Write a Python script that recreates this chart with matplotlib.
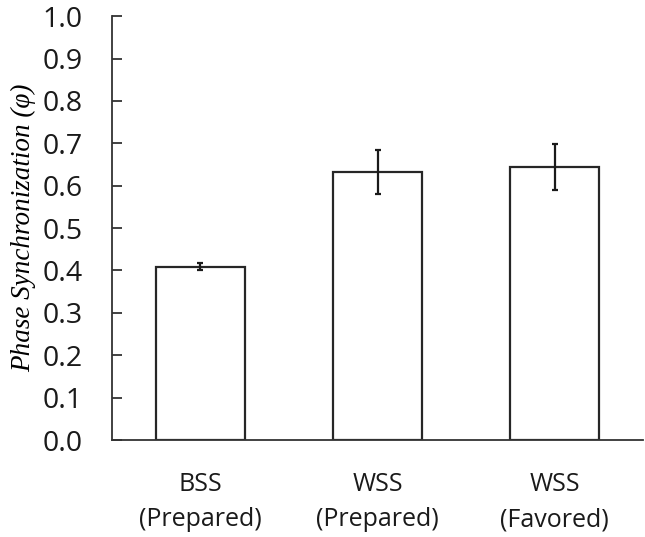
import matplotlib
matplotlib.use('Agg')
import matplotlib.pyplot as plt
import numpy as np

conditions = ['BSS\n(Prepared)', 'WSS\n(Prepared)', 'WSS\n(Favored)']
phase_sync = [0.409, 0.632, 0.644]
sem = [0.009, 0.052, 0.054]

fig = plt.figure(figsize=(6.45, 5.37), dpi=100)
ax = fig.add_axes([0.1736, 0.1806, 0.8234, 0.7894])

x = np.arange(len(conditions))
ax.bar(x, phase_sync, width=0.5, color='white', edgecolor='#262626', linewidth=1.6, zorder=2)
ax.errorbar(x, phase_sync, yerr=sem, fmt='none', ecolor='#1a1a1a', elinewidth=1.6,
            capsize=2.5, capthick=1.6, zorder=3)

ax.set_xlim(-0.5, 2.5)
ax.set_ylim(0, 1.0)
ax.set_yticks(np.arange(0, 1.01, 0.1))
ax.set_yticklabels(['%.1f' % v for v in np.arange(0, 1.01, 0.1)], fontfamily='Open Sans', fontsize=20.5)
ax.set_xticks(x)
ax.set_xticklabels(conditions, fontfamily='Open Sans', fontsize=18, linespacing=1.55)

for s in ['top', 'right']:
    ax.spines[s].set_visible(False)
for s in ['left', 'bottom']:
    ax.spines[s].set_color('#333333')
    ax.spines[s].set_linewidth(1.3)

ax.tick_params(axis='y', direction='in', length=7, width=1.3, color='#333333', pad=21, labelcolor='#1a1a1a')
ax.tick_params(axis='x', length=0, pad=23, labelcolor='#1a1a1a')

ax.set_ylabel('Phase Synchronization (φ)', fontfamily='Liberation Serif', fontstyle='italic',
              fontsize=19.5, labelpad=5)

fig.savefig('out.png', dpi=100)
